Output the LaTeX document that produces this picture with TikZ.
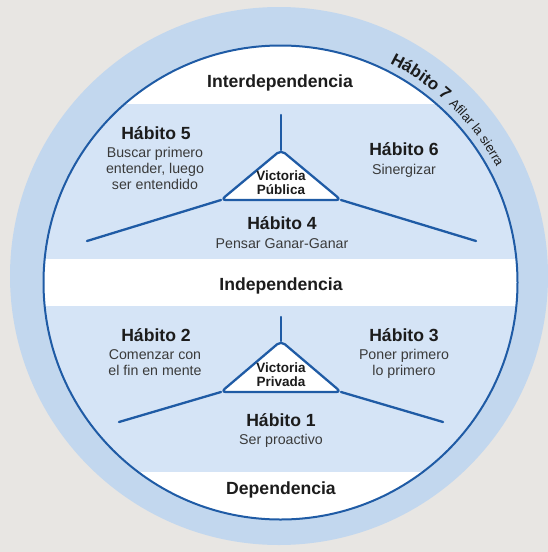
\documentclass[tikz,border=0pt]{standalone}
\usepackage{fontspec}
\setmainfont{Liberation Sans}
\usetikzlibrary{decorations.text}
\definecolor{bggray}{HTML}{E8E6E3}
\definecolor{ringblue}{HTML}{C2D7EE}
\definecolor{bandblue}{HTML}{D5E4F6}
\definecolor{lineblue}{HTML}{1F5BA5}
\definecolor{txtdark}{HTML}{1C1C1C}
\definecolor{txtgray}{HTML}{3A3A3A}
\begin{document}
\begin{tikzpicture}[x=1pt,y=-1pt,
  head/.style={font=\fontsize{17.6}{20}\selectfont\bfseries, text=txtdark, anchor=base, inner sep=0pt},
  desc/.style={font=\fontsize{14.2}{16}\selectfont, text=txtgray, anchor=base, inner sep=0pt},
  vic/.style={font=\fontsize{13.5}{15}\selectfont\bfseries, text=txtdark, anchor=base, inner sep=0pt},
  ln/.style={draw=lineblue, line width=2.3pt, line cap=round},
  tri/.style={draw=lineblue, fill=white, line width=2.3pt, rounded corners=5pt, line join=round}]
\useasboundingbox (0,0) rectangle (548,552);
\fill[bggray] (0,0) rectangle (548,552);
% outer ring
\fill[ringblue] (279,276) circle[radius=269pt];
% inner disk with bands
\begin{scope}
  \clip (280.5,282.5) circle[radius=237pt];
  \fill[white] (0,0) rectangle (548,552);
  \fill[bandblue] (0,104) rectangle (548,259);
  \fill[bandblue] (0,306) rectangle (548,472);
\end{scope}
\draw[lineblue, line width=2pt] (280.5,282.5) circle[radius=237pt];
% Habito 7 along arc
\coordinate (ctr) at (280.5,282.5);
\path[decorate, decoration={text along path, text align=left,
  text={|\color{txtdark}\fontsize{17}{18}\selectfont\bfseries|Hábito 7 |\color{txtdark}\fontsize{13}{14}\selectfont|Afilar la sierra}}]
  (ctr) ++(63.5:245pt) arc[start angle=63.5, end angle=10, radius=245pt];
% level labels
\node[head] (inter) at (280,87) {Interdependencia};
\node[head] (indep) at (281,290) {Independencia};
\node[head] (dep) at (281,494) {Dependencia};
% upper triangle structure
\coordinate (uTop) at (281,115);
\coordinate (uA) at (281,150);
\coordinate (uL) at (221,200);
\coordinate (uR) at (341,200);
\coordinate (uLe) at (87,241);
\coordinate (uRe) at (476,241);
\draw[ln] (uTop) -- (uA);
\draw[ln] (uL) -- (uLe);
\draw[ln] (uR) -- (uRe);
\path[tri] (uA) -- (uR) -- (uL) -- cycle;
\node[vic] (vp1) at (281,180) {Victoria};
\node[vic] (vp2) at (281,194) {Pública};
% lower triangle structure
\coordinate (lTop) at (281,317);
\coordinate (lA) at (281,341);
\coordinate (lL) at (221,392);
\coordinate (lR) at (341,392);
\coordinate (lLe) at (119,422);
\coordinate (lRe) at (443,422);
\draw[ln] (lTop) -- (lA);
\draw[ln] (lL) -- (lLe);
\draw[ln] (lR) -- (lRe);
\path[tri] (lA) -- (lR) -- (lL) -- cycle;
\node[vic] (vr1) at (281,372) {Victoria};
\node[vic] (vr2) at (281,386) {Privada};
% Habit 5
\node[head] (h5) at (156,139) {Hábito 5};
\node[desc] (h5a) at (155,157) {Buscar primero};
\node[desc] (h5b) at (155,173) {entender, luego};
\node[desc] (h5c) at (155,189) {ser entendido};
% Habit 6
\node[head] (h6) at (404,155) {Hábito 6};
\node[desc] (h6a) at (404,174) {Sinergizar};
% Habit 4
\node[head] (h4) at (282,229) {Hábito 4};
\node[desc] (h4a) at (282,248) {Pensar Ganar-Ganar};
% Habit 2
\node[head] (h2) at (156,341) {Hábito 2};
\node[desc] (h2a) at (155,359) {Comenzar con};
\node[desc] (h2b) at (155,375) {el fin en mente};
% Habit 3
\node[head] (h3) at (404,341) {Hábito 3};
\node[desc] (h3a) at (404,359) {Poner primero};
\node[desc] (h3b) at (404,375) {lo primero};
% Habit 1
\node[head] (h1) at (281,426) {Hábito 1};
\node[desc] (h1a) at (281,444) {Ser proactivo};
\end{tikzpicture}
\end{document}
